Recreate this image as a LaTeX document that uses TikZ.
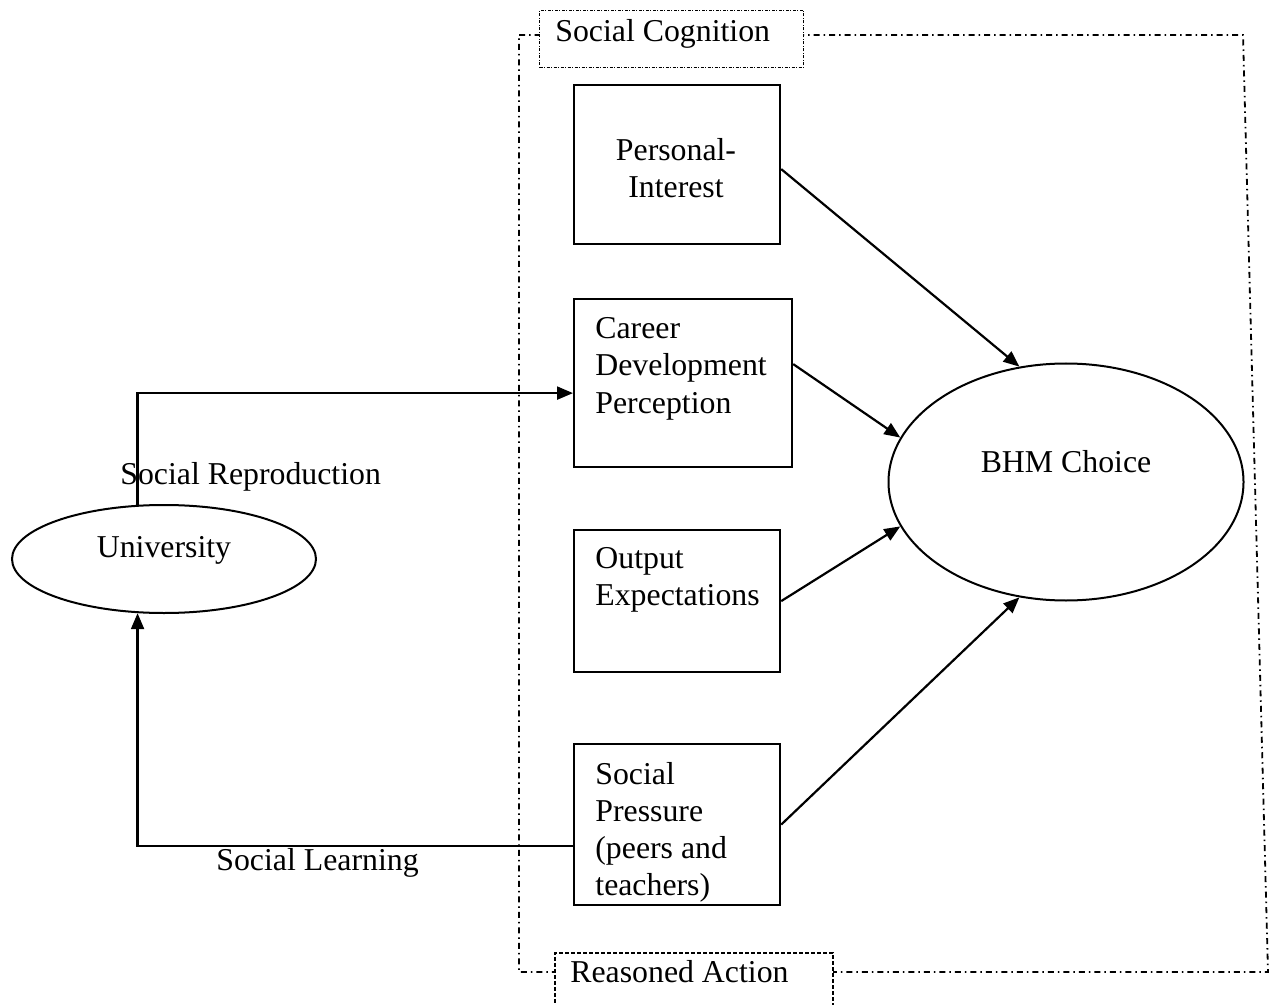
\documentclass[tikz,border=0pt]{standalone}
\usepackage{fontspec}
\setmainfont{Liberation Serif}
\usetikzlibrary{arrows.meta,shapes.geometric}
\begin{document}
\begin{tikzpicture}[x=0.5pt,y=-0.5pt,
  every node/.style={font=\fontsize{15.9pt}{18.5pt}\selectfont, inner sep=0pt},
  framestyle/.style={line width=0.9pt, dash pattern=on 3pt off 2pt on 0.75pt off 2pt},
  cogbox/.style={draw, fill=white, line width=0.5pt, dash pattern=on 1.5pt off 0.75pt on 0.5pt off 0.75pt, anchor=north west},
  rabox/.style={draw, fill=white, line width=0.75pt, dash pattern=on 2pt off 1pt, anchor=north west},
  factor/.style={draw, line width=1.1pt, anchor=north west, minimum width=103pt},
  boxtext/.style={anchor=base west, align=left},
  oval/.style={draw, ellipse, line width=1pt},
  arr/.style={line width=1.1pt, -{Triangle[length=8pt,width=6.5pt]}}
]
\useasboundingbox (0,0) rectangle (1273,1005);
\clip (0,0) rectangle (1273,1005);
% outer frame
\coordinate (ftl) at (519,35);
\coordinate (ftr) at (1243,35);
\coordinate (fbr) at (1268,972);
\coordinate (fbl) at (519,972);
\draw[framestyle] (ftl) -- (ftr) -- (fbr) -- (fbl) -- cycle;
% frame labels
\node[cogbox, minimum width=132pt, minimum height=28.5pt] (scbox) at (539,10) {};
\node[anchor=base west] (sc) at (555,42) {Social Cognition};
\node[rabox, minimum width=139pt, minimum height=35pt] (rabx) at (554,952) {};
\node[anchor=base west] (ra) at (570,982) {Reasoned Action};
% factor boxes
\node[factor, minimum height=79.5pt] (pi) at (573,84) {};
\node[align=center, anchor=base] (pitext) at (676,198) {Personal-\\Interest};
\node[factor, minimum width=109pt, minimum height=84pt] (cd) at (573,298) {};
\node[boxtext] (cdtext) at (595,413) {Career\\Development\\Perception};
\node[factor, minimum height=71pt] (oe) at (573,529) {};
\node[boxtext] (oetext) at (595,605) {Output\\Expectations};
\node[factor, minimum height=80.5pt] (sp) at (573,743) {};
\node[boxtext] (sptext) at (595,895) {Social\\Pressure\\(peers and\\teachers)};
% ellipses
\node[oval, minimum width=177.5pt, minimum height=118.5pt, text height=11pt, text depth=21pt] (bhm) at (1066,482) {BHM Choice};
\node[oval, minimum width=152pt, minimum height=54pt, text height=11pt, text depth=13pt] (univ) at (164,559) {University};
% connectors
\draw[arr] (univ.116) |- ([yshift=-5pt]cd.west);
\draw[arr] ([yshift=-10.75pt]sp.west) -| (univ.244);
\node[anchor=base west] (srlab) at (120,484) {Social Reproduction};
\node[anchor=base west] (sllab) at (216,870) {Social Learning};
\draw[arr] ([yshift=-2.25pt]pi.east) -- (bhm.112);
\draw[arr] ([yshift=9.5pt]cd.east) -- (bhm.165);
\draw[arr] (oe.east) -- (bhm.195);
\draw[arr] (sp.east) -- (bhm.248);
\end{tikzpicture}
\end{document}
